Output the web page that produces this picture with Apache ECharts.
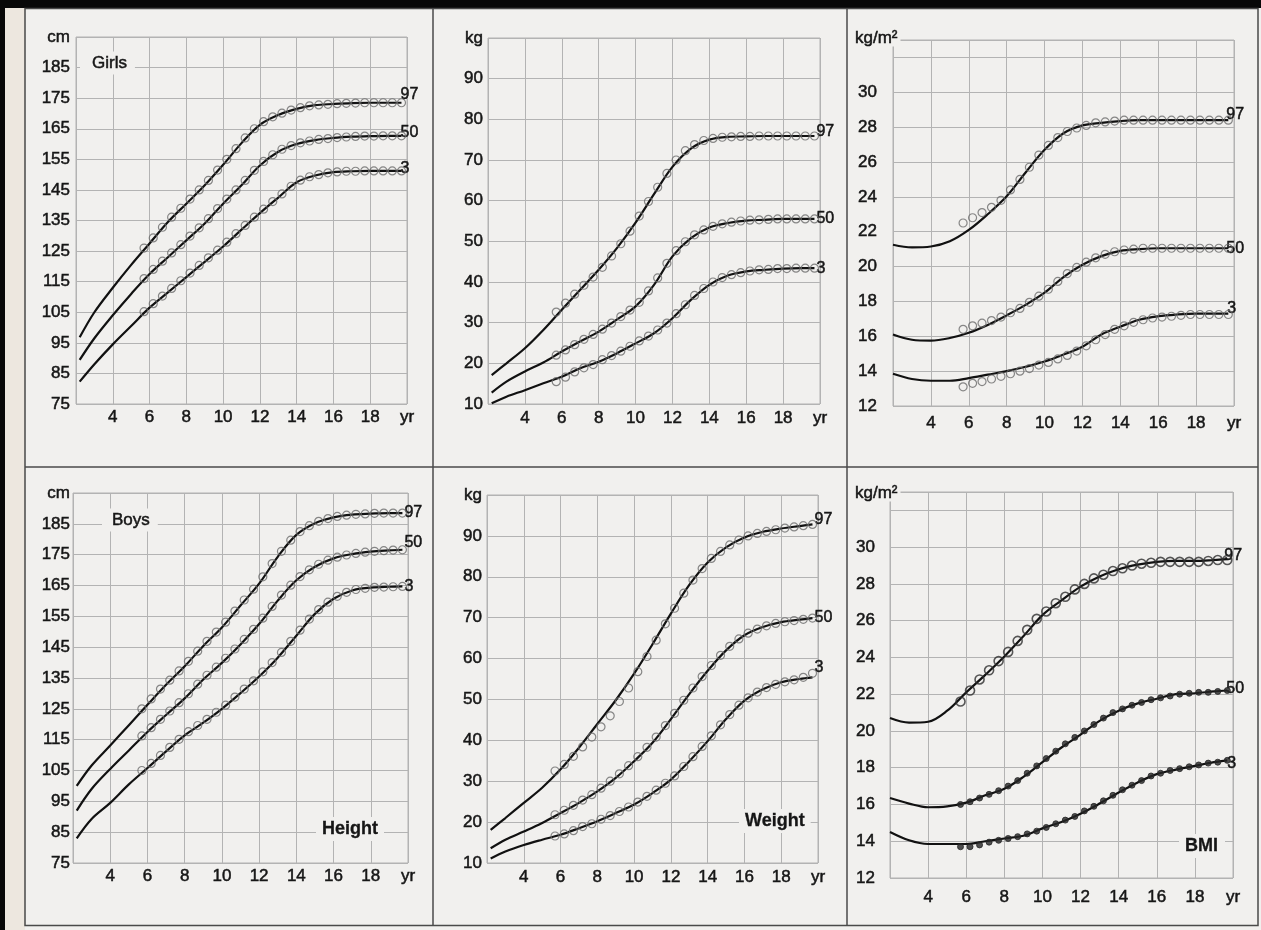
<!DOCTYPE html>
<html><head><meta charset="utf-8">
<script src="https://cdn.jsdelivr.net/npm/echarts@6/dist/echarts.min.js"></script>
<style>html,body{margin:0;padding:0;background:#f1f0ee;} #c{width:1261px;height:930px;}</style>
</head><body><div id="c"></div><script>
// ---------- data ----------
const agesLineHW  = [2.2,3,4,5,6,7,8,9,10,11,12,13,14,15,16,17,18,19,19.7];
const agesLineBMI = [2,3,4,5,6,7,8,9,10,11,12,13,14,15,16,17,18,19,19.7];
const agesDots = [5.7,6.2,6.7,7.2,7.7,8.2,8.7,9.2,9.7,10.2,10.7,11.2,11.7,12.2,12.7,13.2,13.7,14.2,14.7,15.2,15.7,16.2,16.7,17.2,17.7,18.2,18.7,19.2,19.7];
const pctLabels = ['97','50','3'];
const xTickLabels = {4:'4',6:'6',8:'8',10:'10',12:'12',14:'14',16:'16',18:'18',20:'yr'};

// Girls height (cm)
const girlsHeight97 = [96.8,105,113,120.5,127.5,134.5,140.5,146.5,153.2,160.3,166.3,169.5,171.5,172.7,173.1,173.4,173.5,173.5,173.5];
const girlsHeight50 = [89.4,96.5,104,111,117.5,123,128.5,134,140.5,146.5,153,157.5,160,161.3,162,162.4,162.6,162.7,162.7];
const girlsHeight3  = [82.3,88,94.5,100.5,106.5,111.5,116.5,121.5,126.5,132,137.4,142.5,147.5,149.7,150.8,151.1,151.2,151.2,151.2];
const girlsHeightDots97 = [126,129.3,132.8,136.1,139,142,145,148.1,151.5,155,158.5,162,165,167.3,168.9,170.1,171.1,171.9,172.5,172.8,173,173.2,173.3,173.4,173.5,173.5,173.5,173.5,173.5];
const girlsHeightDots50 = [116,119,121.7,124.4,127.1,129.9,132.6,135.6,138.9,142,145,148.1,151.4,154.3,156.5,158.3,159.5,160.4,161,161.5,161.8,162.1,162.3,162.5,162.6,162.6,162.7,162.7,162.7];
const girlsHeightDots3  = [105.2,107.8,110.3,112.8,115.3,117.8,120.3,122.8,125.3,127.9,130.7,133.4,136.1,138.7,141.2,143.7,146.2,148.2,149.3,150,150.6,150.9,151.1,151.1,151.2,151.2,151.2,151.2,151.2];

// Girls weight (kg)
const girlsWeight97 = [17.1,20,23.7,28.2,33.2,38.1,43,48.4,54.6,61.6,68.3,72.8,75,75.7,75.8,75.9,75.9,75.9,75.9];
const girlsWeight50 = [12.8,15.5,18,20.2,22.9,25.4,27.8,30.8,34,39.3,46.3,50.8,53.4,54.5,55.1,55.3,55.5,55.5,55.5];
const girlsWeight3  = [10.2,11.8,13.4,15.1,16.7,18.8,20.4,22.5,24.9,27.4,31.1,35.6,39.3,41.6,42.6,43,43.3,43.4,43.4];
const girlsWeightDots97 = [32.6,34.8,37,39.2,41.2,43.6,46.4,49.4,52.5,56.2,59.8,63.3,66.7,70,72.3,73.8,74.8,75.3,75.6,75.7,75.8,75.8,75.9,75.9,75.9,75.9,75.9,75.9,75.9];
const girlsWeightDots50 = [22,23.3,24.6,25.9,27.1,28.4,29.9,31.5,33.1,35,37.8,41,44.6,47.7,49.9,51.6,52.8,53.7,54.3,54.7,55,55.2,55.3,55.4,55.5,55.5,55.5,55.5,55.5];
const girlsWeightDots3  = [15.5,16.6,17.9,18.9,19.7,20.9,21.9,23,24.2,25.5,26.7,28.2,29.9,32.2,34.4,36.7,38.4,40,41.1,41.8,42.3,42.7,43,43.1,43.3,43.3,43.4,43.4,43.4];

// Girls BMI (kg/m2)
const girlsBmi97 = [21.25,21.1,21.15,21.45,22.1,23,24.03,25.4,26.7,27.65,28.1,28.25,28.35,28.4,28.4,28.4,28.4,28.4,28.4];
const girlsBmi50 = [16.1,15.8,15.75,15.9,16.2,16.65,17.2,17.8,18.5,19.4,20.1,20.6,20.9,21,21.05,21.05,21.05,21.05,21.05];
const girlsBmi3  = [13.85,13.55,13.45,13.45,13.6,13.8,14,14.25,14.55,14.95,15.4,16.1,16.55,16.95,17.15,17.25,17.3,17.3,17.3];
const girlsBmiDots97 = [22.5,22.8,23.1,23.4,23.8,24.4,25,25.7,26.4,26.95,27.4,27.75,27.95,28.1,28.25,28.3,28.35,28.4,28.4,28.4,28.4,28.4,28.4,28.4,28.4,28.4,28.4,28.4,28.4];
const girlsBmiDots50 = [16.4,16.6,16.75,16.9,17.1,17.35,17.6,17.95,18.3,18.7,19.15,19.6,19.95,20.25,20.5,20.7,20.85,20.95,21,21.05,21.05,21.05,21.05,21.05,21.05,21.05,21.05,21.05,21.05];
const girlsBmiDots3  = [13.1,13.3,13.4,13.55,13.7,13.85,14,14.15,14.35,14.5,14.7,14.9,15.15,15.45,15.8,16.1,16.4,16.6,16.8,16.95,17.05,17.1,17.15,17.2,17.25,17.25,17.25,17.25,17.25];

// Boys height (cm)
const boysHeight97 = [100,106.6,113.1,119.7,126.3,132.8,138.8,145.4,151.4,158.5,165.6,174.3,181.4,185.2,187.1,188,188.3,188.5,188.5];
const boysHeight50 = [92,99,105.5,111.5,117.5,123,128.4,134.5,139.9,145.9,152.5,160.1,166.7,171.1,173.8,175.2,176,176.4,176.6];
const boysHeight3  = [83,89.3,94.5,100.5,105.8,111.2,116.4,120.5,125,130.1,135.5,141.6,148.7,155.8,160.7,163.4,164.3,164.6,164.7];
const boysHeightDots97 = [125,128.2,131.4,134.3,137.3,140.4,143.7,146.9,149.9,153.1,156.7,160.3,163.8,167.8,172.1,176.1,179.7,182.5,184.4,185.8,186.7,187.4,187.8,188.1,188.2,188.4,188.5,188.5,188.5];
const boysHeightDots50 = [116.2,118.9,121.6,124.3,127,129.9,133,135.9,138.5,141.4,144.4,147.5,150.8,154.4,158.2,161.9,165.1,167.9,170.1,171.9,173.2,174.2,174.9,175.4,175.8,176.1,176.3,176.5,176.6];
const boysHeightDots3  = [105,107.3,109.9,112.5,115.1,117.6,119.6,121.6,123.9,126.2,128.8,131.4,134.1,137,140,143.3,146.9,150.5,154.1,157.2,159.6,161.5,162.8,163.7,164.1,164.4,164.5,164.6,164.7];

// Boys weight (kg)
const boysWeight97 = [18.1,21,24.7,28.4,32.9,38.2,44,49.8,56.3,63.5,71,78,83.5,87.2,89.6,91,91.8,92.4,92.8];
const boysWeight50 = [13.6,15.7,17.7,19.8,22.2,24.7,27.5,30.8,34.9,39.4,45.2,51.3,57,62,65.7,67.7,68.9,69.5,69.9];
const boysWeight3  = [11.1,12.8,14.4,15.7,16.9,18.5,20.2,22.2,24.3,27.1,30.4,34.9,39.8,45.2,49.7,52.5,54.2,55,55.4];
const boysWeightDots97 = [32.5,34.1,36.1,38.4,40.8,43.3,46,49.5,52.8,56.8,60.5,64.5,68.5,72.3,76,79.2,82,84.5,86.2,87.8,89,90,90.6,91.1,91.5,91.9,92.2,92.5,92.8];
const boysWeightDots50 = [21.8,22.9,24.1,25.4,26.7,28.3,30,31.8,33.8,36,38.3,40.8,43.6,46.6,49.8,52.8,55.6,58.3,60.8,63,64.8,66.2,67.2,68,68.6,69,69.3,69.6,69.9];
const boysWeightDots3  = [16.6,17.1,17.9,18.9,19.6,20.7,21.6,22.6,23.7,24.9,26.3,27.8,29.5,31.3,33.6,36,38.5,41.1,43.8,46.3,48.6,50.4,51.8,52.9,53.7,54.3,54.8,55.4,56.4];

// Boys BMI (kg/m2)
const boysBmi97 = [20.7,20.45,20.5,21.1,22.1,23.05,24.05,25.15,26.3,27.1,27.85,28.4,28.8,29.05,29.2,29.25,29.25,29.3,29.35];
const boysBmi50 = [16.35,16.05,15.85,15.9,16.1,16.5,16.85,17.5,18.3,19.1,19.8,20.55,21.1,21.5,21.75,22,22.05,22.15,22.2];
const boysBmi3  = [14.5,14.05,13.85,13.85,13.85,14,14.15,14.3,14.7,15.05,15.5,16.05,16.65,17.2,17.65,17.9,18.1,18.3,18.4];
const boysBmiDots97 = [21.6,22.2,22.8,23.3,23.8,24.3,24.9,25.5,26.1,26.5,26.95,27.3,27.7,28,28.3,28.5,28.7,28.85,29,29.1,29.15,29.2,29.2,29.2,29.2,29.2,29.25,29.3,29.3];
const boysBmiDots50 = [16,16.15,16.35,16.55,16.75,17,17.3,17.7,18.1,18.5,18.9,19.3,19.65,20,20.35,20.7,21,21.2,21.4,21.55,21.7,21.8,21.9,22,22.05,22.1,22.1,22.15,22.2];
const boysBmiDots3  = [13.7,13.7,13.8,13.95,14.05,14.15,14.25,14.4,14.55,14.75,14.95,15.15,15.35,15.65,15.9,16.2,16.5,16.8,17.05,17.3,17.55,17.7,17.85,17.95,18.05,18.15,18.25,18.3,18.4];

// ---------- chart ----------
const FONT = '"Liberation Sans", Arial, Helvetica, sans-serif';
const TXT = '#161616';
const GRIDC = '#b3b3b3';
const openDot = {size:8, style:{color:'rgba(0,0,0,0)', borderColor:'#6b6b6b', borderWidth:1.2}};
const boldOpenDot = {size:9, style:{color:'rgba(0,0,0,0)', borderColor:'#2e2e2e', borderWidth:1.6}};
const solidDot = {size:6, style:{color:'#262626', borderColor:'#262626', borderWidth:1}};

const panels = [
  {grid:{left:76,top:37,width:331,height:367}, y:[75,195,10], hideAbove:195, ylm:6, xlm:5, ages:agesLineHW,
   lines:[girlsHeight97,girlsHeight50,girlsHeight3], dots:[girlsHeightDots97,girlsHeightDots50,girlsHeightDots3],
   dotStyle:[openDot,openDot,openDot], labOff:[[-3,-8],[-3,-3],[-3,-2]]},
  {grid:{left:488,top:38,width:332,height:366}, y:[10,100,10], hideAbove:100, ylm:5, xlm:6, ages:agesLineHW,
   lines:[girlsWeight97,girlsWeight50,girlsWeight3], dots:[girlsWeightDots97,girlsWeightDots50,girlsWeightDots3],
   dotStyle:[openDot,openDot,openDot], labOff:[[0,-4],[0,0],[0,0]]},
  {grid:{left:893,top:40,width:341,height:366}, y:[12,33,2], hideAbove:32, ylm:16, xlm:9, ages:agesLineBMI,
   lines:[girlsBmi97,girlsBmi50,girlsBmi3], dots:[girlsBmiDots97,girlsBmiDots50,girlsBmiDots3],
   dotStyle:[openDot,openDot,openDot], labOff:[[-4,-6],[-4,0],[-3,-5]]},
  {grid:{left:73,top:493,width:335,height:370}, y:[75,195,10], hideAbove:195, ylm:3, xlm:5, ages:agesLineHW,
   lines:[boysHeight97,boysHeight50,boysHeight3], dots:[boysHeightDots97,boysHeightDots50,boysHeightDots3],
   dotStyle:[openDot,openDot,openDot], labOff:[[0,0],[0,-7],[0,0]]},
  {grid:{left:487,top:495,width:331,height:368}, y:[10,100,10], hideAbove:100, ylm:5, xlm:6, ages:agesLineHW,
   lines:[boysWeight97,boysWeight50,boysWeight3], dots:[boysWeightDots97,boysWeightDots50,boysWeightDots3],
   dotStyle:[openDot,openDot,openDot], labOff:[[0,-5],[0,0],[0,-10]]},
  {grid:{left:890,top:492,width:343,height:386}, y:[12,33,2], hideAbove:32, ylm:15, xlm:11, ages:agesLineBMI,
   lines:[boysBmi97,boysBmi50,boysBmi3], dots:[boysBmiDots97,boysBmiDots50,boysBmiDots3],
   dotStyle:[boldOpenDot,solidDot,solidDot], labOff:[[-5,-3],[-3,-2],[-2,3]]}
];

const grids=[], xAxes=[], yAxes=[], series=[];
const labelBase = {color:TXT, fontSize:17, fontFamily:FONT, textBorderColor:TXT, textBorderWidth:0.5};
panels.forEach((p,i)=>{
  grids.push(Object.assign({show:true, borderColor:GRIDC, borderWidth:1, backgroundColor:'transparent'}, p.grid));
  xAxes.push({type:'value', gridIndex:i, min:2, max:20, interval:2,
    axisLine:{show:false}, axisTick:{show:false},
    splitLine:{show:true, lineStyle:{color:GRIDC, width:1}},
    axisLabel:Object.assign({margin:p.xlm, showMinLabel:false, formatter:v=> xTickLabels[v] || ''}, labelBase)});
  yAxes.push({type:'value', gridIndex:i, min:p.y[0], max:p.y[1], interval:p.y[2],
    axisLine:{show:false}, axisTick:{show:false},
    splitLine:{show:true, lineStyle:{color:GRIDC, width:1}},
    axisLabel:Object.assign({margin:p.ylm, formatter:v=> v>=p.hideAbove ? '' : String(v)}, labelBase)});
  p.lines.forEach((d,k)=>{
    series.push({type:'line', xAxisIndex:i, yAxisIndex:i, silent:true, z:3,
      data:p.ages.map((a,j)=>[a,d[j]]), smooth:0.35, showSymbol:false,
      lineStyle:{color:'#111', width:2.2},
      endLabel:{show:true, formatter:pctLabels[k], color:TXT, fontSize:16, fontFamily:FONT,
        textBorderColor:TXT, textBorderWidth:0.5, distance:2, offset:p.labOff[k]}});
  });
  p.dots.forEach((d,k)=>{
    series.push({type:'scatter', xAxisIndex:i, yAxisIndex:i, silent:true, z:4,
      data:agesDots.map((a,j)=>[a,d[j]]), symbol:'circle', symbolSize:p.dotStyle[k].size,
      itemStyle:p.dotStyle[k].style});
  });
});

function txt(x,y,text,opt){
  return {type:'text', x:x, y:y, z:100, silent:true,
    style:Object.assign({text:text, fill:TXT, stroke:TXT, lineWidth:0.5, font:'17px '+FONT, verticalAlign:'middle'}, opt||{})};
}
const BG = '#f1f0ee';
const graphic = [
  {type:'rect', z:90, silent:true, shape:{x:0,y:0,width:1261,height:8}, style:{fill:'#080808'}},
  {type:'rect', z:90, silent:true, shape:{x:0,y:0,width:5,height:930}, style:{fill:'#080808'}},
  {type:'rect', z:90, silent:true, shape:{x:5,y:8,width:20,height:922}, style:{fill:'#ede7df'}},
  {type:'rect', z:91, silent:true, shape:{x:25,y:8.5,width:1233,height:917}, style:{fill:'none', stroke:'#4a4a4a', lineWidth:1.5}},
  {type:'line', z:91, silent:true, shape:{x1:433,y1:8,x2:433,y2:925}, style:{stroke:'#4a4a4a', lineWidth:1.5}},
  {type:'line', z:91, silent:true, shape:{x1:847,y1:8,x2:847,y2:925}, style:{stroke:'#4a4a4a', lineWidth:1.5}},
  {type:'line', z:91, silent:true, shape:{x1:25,y1:467,x2:1258,y2:467}, style:{stroke:'#4a4a4a', lineWidth:1.5}},
  // unit labels
  txt(70,37,'cm',{align:'right'}),
  txt(483,38,'kg',{align:'right'}),
  txt(855,38,'kg/m²',{align:'left', backgroundColor:BG, padding:[0,3,0,0]}),
  txt(70,493,'cm',{align:'right'}),
  txt(482,495,'kg',{align:'right'}),
  txt(855,493,'kg/m²',{align:'left', backgroundColor:BG, padding:[0,3,0,0]}),
  // panel titles
  txt(80,63,'Girls',{backgroundColor:BG, padding:[3,8,3,12]}),
  txt(102,520,'Boys',{backgroundColor:BG, padding:[3,8,3,10]}),
  txt(316,829,'Height',{font:'bold 18px '+FONT, lineWidth:0.3, backgroundColor:BG, padding:[3,6,3,6]}),
  txt(739,821,'Weight',{font:'bold 18px '+FONT, lineWidth:0.3, backgroundColor:BG, padding:[3,6,3,6]}),
  txt(1179,846,'BMI',{font:'bold 18px '+FONT, lineWidth:0.3, backgroundColor:BG, padding:[3,7,3,6]})
];

const chart = echarts.init(document.getElementById('c'), null, {renderer:'canvas'});
chart.setOption({
  backgroundColor:BG, animation:false,
  grid:grids, xAxis:xAxes, yAxis:yAxes, series:series, graphic:graphic
});
</script></body></html>
